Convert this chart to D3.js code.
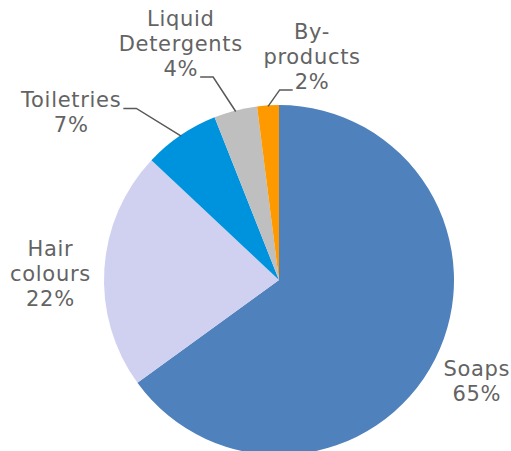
<!DOCTYPE html>
<html>
<head>
<meta charset="utf-8">
<script src="https://cdn.jsdelivr.net/npm/d3@7"></script>
<style>
  body { margin: 0; background: white; }
  text { font-family: "DejaVu Sans", Verdana, sans-serif; font-size: 21px; fill: #636363; letter-spacing: 0.7px; }
</style>
</head>
<body>
<script>
var categories = ["Soaps", "Hair colours", "Toiletries", "Liquid Detergents", "By-products"]
var shares = [65, 22, 7, 4, 2]
// how Excel broke the category names onto lines
var labelLines = [["Soaps"], ["Hair", "colours"], ["Toiletries"], ["Liquid", "Detergents"], ["By-", "products"]]
var sliceColors = ["#4F81BD", "#D0D0F0", "#0093DD", "#BFBFBF", "#FF9900"]

var width = 511
var height = 451
var cx = 279, cy = 280
var radius = 175
var labelRadius = 222
var lineHeight = 25

// labels that were dragged away from the default spot in the original
var nudges = [[0, 0], [-7, 7], [-83, 16], [-43, -21.5], [47, -2]]
// leader line: which text line it hooks onto, and on which side
var leaders = [null, null, { line: 0, side: "right" }, { line: 2, side: "right" }, { line: 2, side: "left" }]

var svg = d3.select("body")
    .append("svg")
    .attr("width", width)
    .attr("height", height)

var g = svg.append("g")
    .attr("transform", "translate(" + cx + "," + cy + ")")

var pie = d3.pie().sort(null).value(function (d) { return d })
var arcs = pie(shares)

var arc = d3.arc().innerRadius(0).outerRadius(radius)

g.selectAll(".slice")
    .data(arcs)
    .enter()
    .append("path")
    .attr("class", "slice")
    .attr("d", arc)
    .attr("fill", function (d, i) { return sliceColors[i] })

function midAngle(d) { return (d.startAngle + d.endAngle) / 2 }

var labels = g.selectAll(".label")
    .data(arcs)
    .enter()
    .append("g")
    .attr("class", "label")
    .attr("transform", function (d, i) {
        var a = midAngle(d)
        var x = labelRadius * Math.sin(a) + nudges[i][0]
        var y = -labelRadius * Math.cos(a) + nudges[i][1]
        return "translate(" + x + "," + y + ")"
    })

labels.each(function (d, i) {
    var lines = labelLines[i].concat([d3.format("d")(shares[i]) + "%"])
    var grp = d3.select(this)
    var top = -(lines.length - 1) * lineHeight / 2 + 7.5
    lines.forEach(function (t, k) {
        grp.append("text")
            .attr("text-anchor", "middle")
            .attr("x", 0)
            .attr("y", top + k * lineHeight)
            .text(t)
    })
})

// leader lines from the label to the slice edge
labels.each(function (d, i) {
    var ld = leaders[i]
    if (!ld) return
    var grp = d3.select(this)
    var tr = d3.select(this).attr("transform").match(/translate\(([^,]+),([^)]+)\)/)
    var ox = +tr[1], oy = +tr[2]
    var box = grp.selectAll("text").nodes()[ld.line].getBBox()
    var yAttach = +grp.selectAll("text").nodes()[ld.line].getAttribute("y") + oy + 1
    var x0 = ld.side === "right" ? ox + box.x + box.width + 2 : ox + box.x - 2
    var x1 = ld.side === "right" ? x0 + 13 : x0 - 13
    var a = midAngle(d)
    var ex = (radius - 1) * Math.sin(a)
    var ey = -(radius - 1) * Math.cos(a)
    g.append("path")
        .attr("d", d3.line()([[x0, yAttach], [x1, yAttach], [ex, ey]]))
        .attr("fill", "none")
        .attr("stroke", "#595959")
        .attr("stroke-width", 1.5)
})
</script>
</body>
</html>
